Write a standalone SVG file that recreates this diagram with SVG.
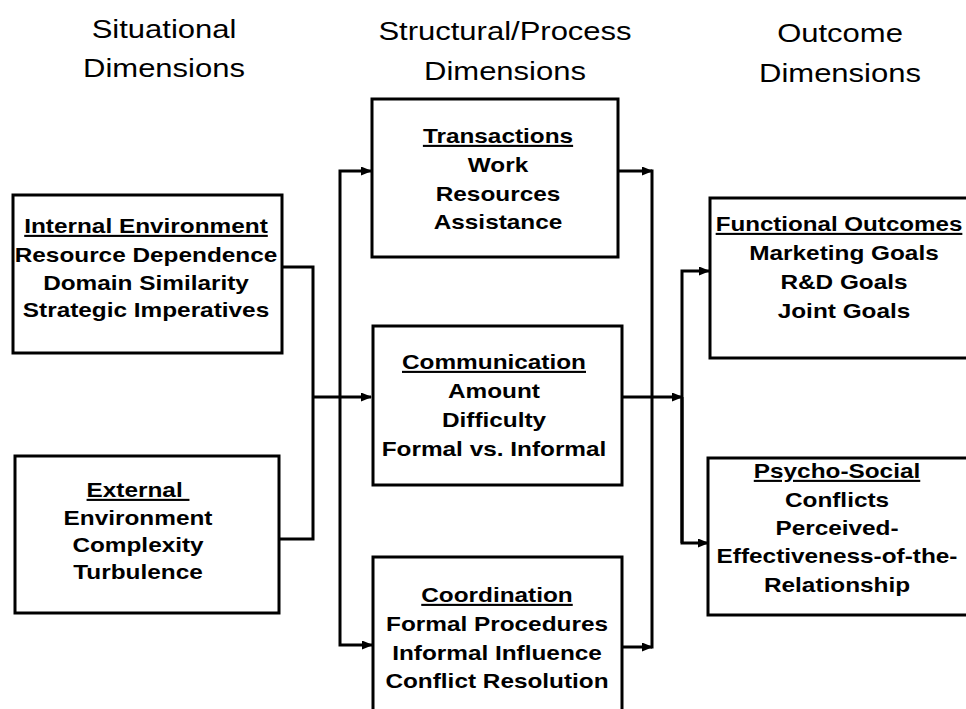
<svg xmlns="http://www.w3.org/2000/svg" width="966" height="709" viewBox="0 0 966 709">
<style>
.box{fill:#fff;stroke:#000;stroke-width:3}
.ln{fill:none;stroke:#000;stroke-width:3}
.hd{font-family:"Liberation Sans",Arial,Helvetica,sans-serif;font-size:26.5px;fill:#000;text-anchor:middle}
.t{font-family:"Liberation Sans",Arial,Helvetica,sans-serif;font-size:21px;font-weight:bold;fill:#000;text-anchor:middle}
.u{text-decoration:underline}
</style>
<defs>
<marker id="ah" markerUnits="userSpaceOnUse" markerWidth="11" markerHeight="9" refX="10" refY="4.5" orient="auto">
<path d="M0,0 L11,4.5 L0,9 z" fill="#000"/>
</marker>
</defs>
<rect width="966" height="709" fill="#fff"/>

<g id="titles">
<g transform="translate(164,0) scale(1.17,1)"><text class="hd" x="0" y="38">Situational</text><text class="hd" x="0" y="77">Dimensions</text></g>
<g transform="translate(505,0) scale(1.17,1)"><text class="hd" x="0" y="40">Structural/Process</text><text class="hd" x="0" y="80">Dimensions</text></g>
<g transform="translate(840,0) scale(1.17,1)"><text class="hd" x="0" y="42">Outcome</text><text class="hd" x="0" y="82">Dimensions</text></g>
</g>

<g id="connectors">
<path class="ln" d="M282,267 H313 V539 H279"/>
<path class="ln" d="M313,397 H371" marker-end="url(#ah)"/>
<path class="ln" d="M340,397 V171 H371" marker-end="url(#ah)"/>
<path class="ln" d="M340,397 V645 H372" marker-end="url(#ah)"/>
<path class="ln" d="M618,171 H652" marker-end="url(#ah)"/>
<path class="ln" d="M622,647 H652" marker-end="url(#ah)"/>
<path class="ln" d="M652,169.5 V648.5"/>
<path class="ln" d="M622,397 H682" marker-end="url(#ah)"/>
<path class="ln" d="M682,543 V271 H709" marker-end="url(#ah)"/>
<path class="ln" d="M682,397 V543 H708" marker-end="url(#ah)"/>
</g>

<g id="internal">
<rect class="box" x="13" y="195" width="269" height="158"/>
<g transform="translate(146,0) scale(1.16,1)">
<text class="t u" x="0" y="233">Internal Environment</text>
<text class="t" x="0" y="262">Resource Dependence</text>
<text class="t" x="0" y="290">Domain Similarity</text>
<text class="t" x="0" y="317">Strategic Imperatives</text>
</g>
</g>

<g id="external">
<rect class="box" x="15" y="456" width="264" height="157"/>
<g transform="translate(138,0) scale(1.16,1)">
<text class="t u" x="0" y="497">External&#160;</text>
<text class="t" x="0" y="525">Environment</text>
<text class="t" x="0" y="552">Complexity</text>
<text class="t" x="0" y="579">Turbulence</text>
</g>
</g>

<g id="transactions">
<rect class="box" x="372" y="99" width="246" height="158"/>
<g transform="translate(498,0) scale(1.16,1)">
<text class="t u" x="0" y="143">Transactions</text>
<text class="t" x="0" y="172">Work</text>
<text class="t" x="0" y="201">Resources</text>
<text class="t" x="0" y="229">Assistance</text>
</g>
</g>

<g id="communication">
<rect class="box" x="373" y="326" width="249" height="159"/>
<g transform="translate(494,0) scale(1.16,1)">
<text class="t u" x="0" y="369">Communication</text>
<text class="t" x="0" y="398">Amount</text>
<text class="t" x="0" y="427">Difficulty</text>
<text class="t" x="0" y="456">Formal vs. Informal</text>
</g>
</g>

<g id="coordination">
<rect class="box" x="373" y="557" width="249" height="170"/>
<g transform="translate(497,0) scale(1.16,1)">
<text class="t u" x="0" y="602">Coordination</text>
<text class="t" x="0" y="631">Formal Procedures</text>
<text class="t" x="0" y="660">Informal Influence</text>
<text class="t" x="0" y="688">Conflict Resolution</text>
</g>
</g>

<g id="functional">
<rect class="box" x="710" y="198" width="270" height="160"/>
<g transform="translate(839,0) scale(1.15,1)">
<text class="t u" x="0" y="231">Functional Outcomes</text>
</g>
<g transform="translate(844,0) scale(1.16,1)">
<text class="t" x="0" y="260">Marketing Goals</text>
<text class="t" x="0" y="289">R&amp;D Goals</text>
<text class="t" x="0" y="318">Joint Goals</text>
</g>
</g>

<g id="psychosocial">
<rect class="box" x="708" y="458" width="272" height="157"/>
<g transform="translate(837,0) scale(1.16,1)">
<text class="t u" x="0" y="478">Psycho-Social</text>
<text class="t" x="0" y="507">Conflicts</text>
<text class="t" x="0" y="535">Perceived-</text>
<text class="t" x="0" y="563">Effectiveness-of-the-</text>
<text class="t" x="0" y="592">Relationship</text>
</g>
</g>
</svg>
